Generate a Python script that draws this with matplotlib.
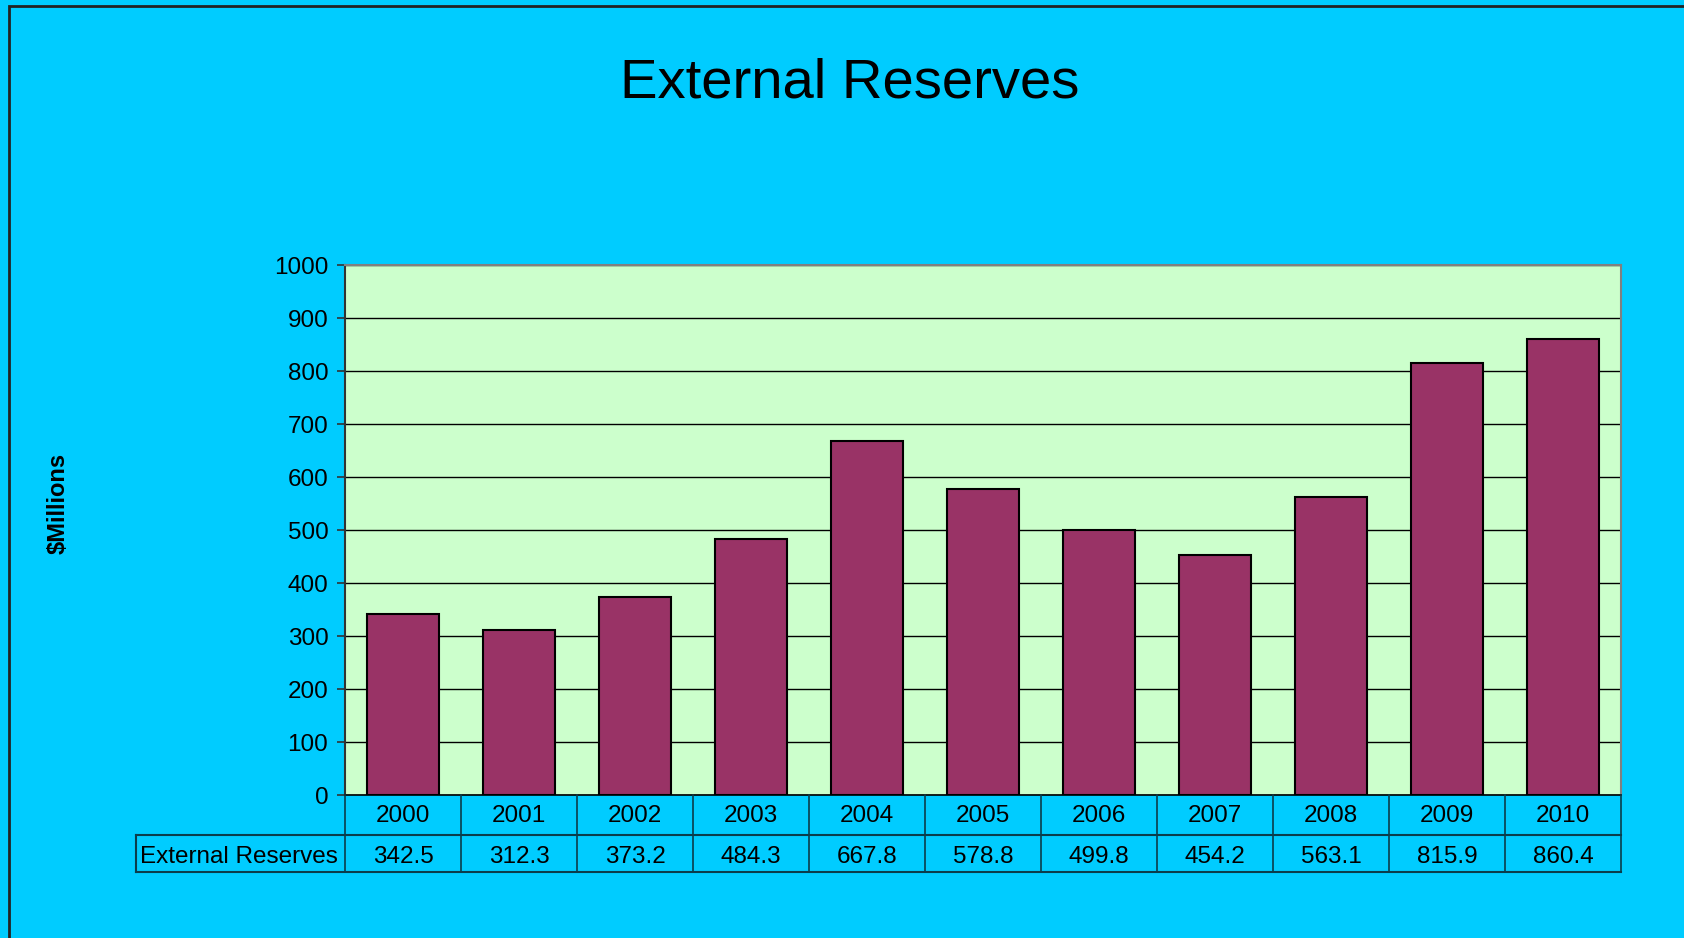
import numpy as np
import matplotlib
matplotlib.use('Agg')
import matplotlib.pyplot as plt
from matplotlib.lines import Line2D
from matplotlib.patches import Rectangle
import matplotlib.transforms as mtransforms

plt.rcParams['font.family'] = ['Liberation Sans', 'DejaVu Sans']

YEARS = ['2000', '2001', '2002', '2003', '2004', '2005', '2006', '2007', '2008', '2009', '2010']
RESERVES = [342.5, 312.3, 373.2, 484.3, 667.8, 578.8, 499.8, 454.2, 563.1, 815.9, 860.4]
SERIES_NAME = 'External Reserves'
Y_TICKS = [0, 100, 200, 300, 400, 500, 600, 700, 800, 900, 1000]

BG = '#00CCFF'
PLOT_BG = '#CCFFCC'
BAR = '#993366'
TABLE_LINE = '#0b3d4c'

W, H = 1684, 938
fig = plt.figure(figsize=(W / 100, H / 100), dpi=100)
fig.patch.set_facecolor(BG)

# outer chart frame (left and top edges visible)
fig.add_artist(Rectangle((9 / W, -0.1), 1.2, 1 - 6 / H + 0.1, transform=fig.transFigure,
                         fill=False, edgecolor='#222222', linewidth=2))

ax = fig.add_axes([345 / W, 1 - 795 / H, (1621 - 345) / W, (795 - 265.5) / H])
ax.set_facecolor(PLOT_BG)

x = np.arange(len(YEARS))
ax.bar(x, RESERVES, width=0.62, color=BAR, edgecolor='black', linewidth=1.5, zorder=3)

ax.set_xlim(-0.5, len(YEARS) - 0.5)
ax.set_ylim(0, 1000)
ax.set_yticks(Y_TICKS)
ax.set_yticklabels([str(t) for t in Y_TICKS], fontsize=17.5)
ax.set_xticks([])
ax.yaxis.grid(True, color='black', linewidth=1.0, zorder=1)
ax.set_axisbelow(True)
ax.tick_params(axis='y', length=6, width=1.2, color='#333333', pad=6)

for side in ['top', 'right']:
    ax.spines[side].set_color('#808080')
    ax.spines[side].set_linewidth(1.5)
ax.spines['left'].set_color('#333333')
ax.spines['left'].set_linewidth(1.5)
ax.spines['bottom'].set_color('black')
ax.spines['bottom'].set_linewidth(1.2)

fig.text(850 / W, 1 - 83 / H, 'External Reserves', fontsize=40.5, ha='center', va='center')
fig.text(58 / W, 1 - 503 / H, '$Millions', fontsize=17, fontweight='bold',
         rotation=90, ha='center', va='center')

# data table under the plot: x from data scale, y in figure coords
trans = mtransforms.blended_transform_factory(ax.transData, fig.transFigure)
y_top = 1 - 795 / H
y_mid = 1 - 835 / H
y_bot = 1 - 872 / H
x_lab = 136 / W
y_cat_txt = 1 - 816 / H
y_val_txt = 1 - 857 / H

for i, (yr, v) in enumerate(zip(YEARS, RESERVES)):
    ax.text(i, y_cat_txt, yr, transform=trans, fontsize=17.5,
            ha='center', va='center', clip_on=False)
    ax.text(i, y_val_txt, f'{v:.1f}', transform=trans, fontsize=17.5,
            ha='center', va='center', clip_on=False)

for k in range(len(YEARS) + 1):
    xe = k - 0.5
    fig.add_artist(Line2D([xe, xe], [y_top, y_bot], transform=trans,
                          color=TABLE_LINE, linewidth=1.2))

lab_line = dict(transform=fig.transFigure, color=TABLE_LINE, linewidth=1.5)
x_plot_left = 345 / W
x_plot_right = 1621 / W
fig.add_artist(Line2D([x_plot_left, x_plot_right], [y_mid, y_mid], **lab_line))
fig.add_artist(Line2D([x_lab, x_plot_left], [y_mid, y_mid], **lab_line))
fig.add_artist(Line2D([x_lab, x_plot_right], [y_bot, y_bot], **lab_line))
fig.add_artist(Line2D([x_lab, x_lab], [y_mid, y_bot], **lab_line))
fig.text(140 / W, y_val_txt, SERIES_NAME, fontsize=17.5, ha='left', va='center')

fig.savefig('out.png', dpi=100, facecolor=BG)
